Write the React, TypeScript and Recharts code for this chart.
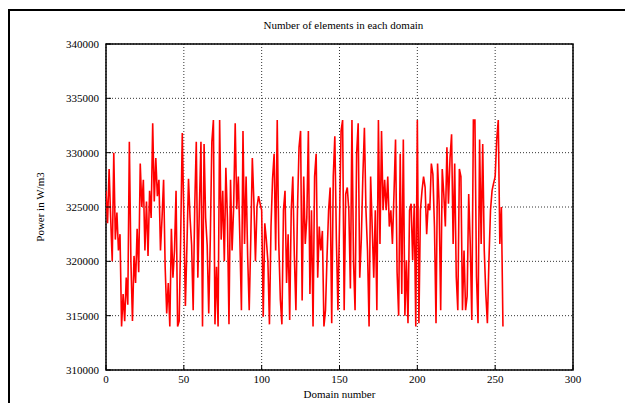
import {
  LineChart,
  Line,
  XAxis,
  YAxis,
  CartesianGrid,
  ReferenceArea,
} from "recharts";

const C = {
  frame: "#000000",
  grid: "#333333",
  line: "#ff0000",
  text: "#000000",
};

const FONT = "'Liberation Serif', 'DejaVu Serif', serif";

// power per domain (W/m3), domains 0..255
const power = [
  326500, 323500, 328500, 324000, 320000, 330000, 322000, 324500, 321000, 322500,
  314000, 317000, 314500, 318500, 316000, 331000, 320000, 314500, 320500, 318000,
  323000, 319000, 329000, 325000, 327500, 321000, 325500, 320500, 326500, 324000,
  332700, 325500, 329500, 326000, 327500, 321000, 324000, 327500, 319500, 315200,
  318000, 314000, 323000, 318500, 321000, 326500, 314000, 314500, 322500, 331800,
  324000, 315900, 321500, 327600, 324000, 321500, 315500, 325000, 331000, 318500,
  325000, 331000, 314000, 330800, 324000, 321500, 315200, 322000, 331000, 333000,
  314200, 319500, 314000, 333000, 322000, 326500, 320000, 328600, 324000, 314200,
  327500, 321000, 325000, 332700, 324800, 327800, 322000, 315500, 332000, 321600,
  327800, 320500, 315500, 322000, 329500, 325500, 320000, 325000, 326000, 325300,
  324700, 314900, 323500, 322000, 320000, 314200, 323200, 327600, 329900, 321000,
  333000, 321600, 316500, 314200, 324700, 326500, 318000, 322500, 314600, 324700,
  327800, 320500, 315500, 324700, 330500, 332000, 316400, 327800, 321600, 324000,
  332000, 317000, 324700, 314000, 327800, 329900, 318500, 323200, 321000, 322800,
  314000, 315500, 320500, 324700, 326800, 314300, 327800, 331500, 322000, 315500,
  323500, 332000, 333000, 315500, 326200, 326800, 324700, 317500, 333000, 320000,
  315500, 329900, 332700, 318500, 322000, 327800, 332300, 324700, 321000, 314000,
  327800, 323200, 318500, 324700, 315500, 333000, 321600, 332000, 324700, 327500,
  324700, 327800, 323200, 324700, 321600, 326200, 331200, 319000, 315000, 329900,
  317000, 331200, 315000, 320100, 314300, 324700, 325300, 320100, 325300, 314000,
  333000, 314300, 324700, 326500, 327800, 326800, 322500, 325300, 324700, 329000,
  328000, 323200, 314300, 329000, 325300, 315500, 328500, 326200, 323200, 330500,
  325300, 329500, 331700, 321600, 329000, 318600, 315500, 328500, 327800, 315500,
  321000, 315500, 316800, 326200, 321600, 314600, 333000, 333000, 318600, 314300,
  331200, 321600, 330800, 321000, 317000, 314300, 320100, 324700, 326500, 327200,
  327800, 331200, 333000, 321600, 325000, 314000,
];

const xTicks = [0, 50, 100, 150, 200, 250, 300];
const yTicks = [310000, 315000, 320000, 325000, 330000, 335000, 340000];

const data = power.map((v, i) => ({ domain: i, power: v }));

const tickStyle = { fill: C.text, fontSize: 11, fontFamily: FONT };

export default function App() {
  return (
    <div
      style={{
        position: "absolute",
        left: 0,
        top: 0,
        width: 625,
        height: 403,
        overflow: "hidden",
        background: "#fff",
      }}
    >
      {/* outer frame, only left and top edges are in view */}
      <div
        style={{
          position: "absolute",
          left: 8,
          top: 9,
          width: 640,
          height: 420,
          borderLeft: `2px solid ${C.frame}`,
          borderTop: `2px solid ${C.frame}`,
        }}
      />
      <div
        style={{
          position: "absolute",
          left: 110,
          width: 467,
          top: 19,
          textAlign: "center",
          fontFamily: FONT,
          fontSize: 11,
          color: C.text,
        }}
      >
        Number of elements in each domain
      </div>
      <div style={{ position: "absolute", left: 0, top: 0 }}>
        <LineChart
          width={625}
          height={403}
          data={data}
          margin={{ top: 44, right: 52, left: 46, bottom: 13 }}
        >
          <CartesianGrid
            stroke={C.grid}
            strokeDasharray="1 2"
            verticalValues={xTicks}
            horizontalValues={yTicks}
          />
          <XAxis
            type="number"
            dataKey="domain"
            domain={[0, 300]}
            ticks={xTicks}
            height={20}
            axisLine={false}
            tickSize={-5}
            tickMargin={10}
            tickLine={{ stroke: C.frame }}
            tick={tickStyle}
            allowDataOverflow
            label={{
              value: "Domain number",
              position: "insideBottom",
              offset: -8,
              style: { fill: C.text, fontSize: 11, fontFamily: FONT },
            }}
          />
          <XAxis
            xAxisId="top"
            orientation="top"
            type="number"
            dataKey="domain"
            domain={[0, 300]}
            ticks={xTicks}
            height={0}
            axisLine={false}
            tickSize={-5}
            tickLine={{ stroke: C.frame }}
            tick={false}
          />
          <YAxis
            domain={[310000, 340000]}
            ticks={yTicks}
            width={60}
            axisLine={false}
            tickSize={-5}
            tickMargin={12}
            tickLine={{ stroke: C.frame }}
            tick={tickStyle}
            allowDataOverflow
            label={{
              value: "Power in W/m3",
              angle: -90,
              position: "insideLeft",
              offset: -6,
              style: { fill: C.text, fontSize: 11, fontFamily: FONT, textAnchor: "middle" },
            }}
          />
          <YAxis
            yAxisId="right"
            orientation="right"
            domain={[310000, 340000]}
            ticks={yTicks}
            width={0}
            axisLine={false}
            tickSize={-5}
            tickLine={{ stroke: C.frame }}
            tick={false}
          />
          <ReferenceArea
            x1={0}
            x2={300}
            y1={310000}
            y2={340000}
            fill="none"
            stroke={C.frame}
            strokeWidth={1.5}
            ifOverflow="visible"
          />
          <Line
            type="linear"
            dataKey="power"
            stroke={C.line}
            strokeWidth={1.6}
            dot={false}
            isAnimationActive={false}
          />
        </LineChart>
      </div>
    </div>
  );
}
